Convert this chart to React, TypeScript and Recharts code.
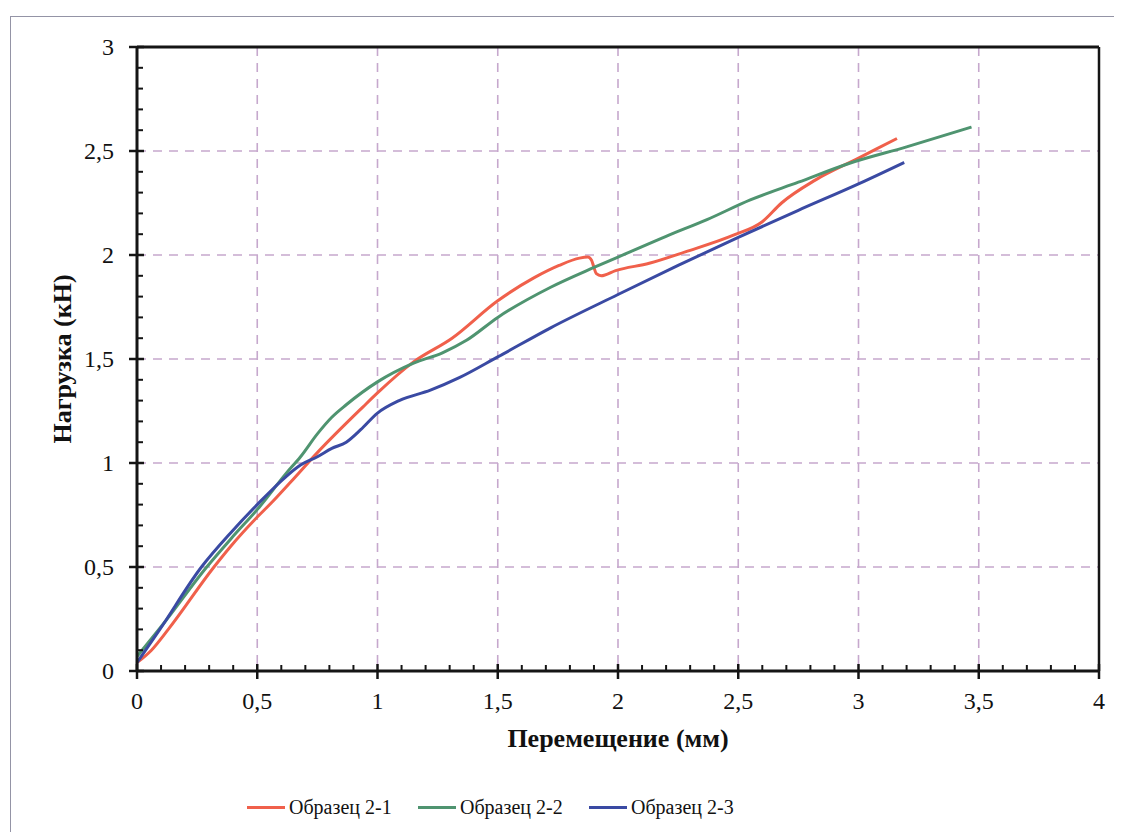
import React from 'react';
import { LineChart, Line, XAxis, YAxis, CartesianGrid, ReferenceLine, Legend } from 'recharts';

// ---- data ----
const red_x = [0, 0.06, 0.13, 0.32, 0.39, 0.5, 0.56, 0.64, 0.75, 0.94, 1.0, 1.15, 1.31, 1.5, 1.65, 1.755, 1.84, 1.874, 1.89, 1.9, 1.91, 1.93, 1.99, 2.13, 2.28, 2.48, 2.6, 2.68, 2.82, 2.99, 3.16];
const red_y = [0.04, 0.1, 0.2, 0.5, 0.6, 0.74, 0.81, 0.91, 1.05, 1.27, 1.337, 1.486, 1.6, 1.78, 1.89, 1.95, 1.985, 1.99, 1.975, 1.94, 1.91, 1.9, 1.925, 1.96, 2.015, 2.095, 2.16, 2.25, 2.36, 2.46, 2.56];

const green_x = [0, 0.105, 0.29, 0.39, 0.51, 0.62, 0.68, 0.75, 0.81, 0.87, 1.0, 1.15, 1.27, 1.37, 1.5, 1.72, 1.9, 2.0, 2.2, 2.37, 2.55, 2.75, 2.96, 3.2, 3.47];
const green_y = [0.07, 0.22, 0.5, 0.635, 0.79, 0.95, 1.03, 1.14, 1.22, 1.28, 1.39, 1.48, 1.53, 1.59, 1.7, 1.845, 1.94, 1.99, 2.09, 2.17, 2.265, 2.35, 2.44, 2.52, 2.615];

const blue_x = [0, 0.095, 0.268, 0.39, 0.5, 0.62, 0.68, 0.75, 0.81, 0.87, 0.93, 1.0, 1.09, 1.22, 1.34, 1.5, 1.72, 2.0, 2.25, 2.5, 2.75, 3.0, 3.19];
const blue_y = [0.04, 0.2, 0.5, 0.665, 0.8, 0.935, 0.99, 1.03, 1.07, 1.1, 1.16, 1.24, 1.3, 1.35, 1.41, 1.51, 1.65, 1.81, 1.95, 2.085, 2.215, 2.342, 2.445];

const seriesNames = ['Образец 2-1', 'Образец 2-2', 'Образец 2-3'];
const seriesColors = ['#f0604b', '#4f9470', '#3a4aa3'];

const xMajorTicks = [0, 0.5, 1, 1.5, 2, 2.5, 3, 3.5, 4];
const yMajorTicks = [0, 0.5, 1, 1.5, 2, 2.5, 3];
const xGridValues = [0.5, 1, 1.5, 2, 2.5, 3, 3.5];
const yGridValues = [0.5, 1, 1.5, 2, 2.5];
const minorStep = 0.1;

const xTitle = 'Перемещение (мм)';
const yTitle = 'Нагрузка (кН)';

// ---- helpers ----
const zip = (xs: number[], ys: number[]) => xs.map((x, i) => ({ x, y: ys[i] }));
const redData = zip(red_x, red_y);
const greenData = zip(green_x, green_y);
const blueData = zip(blue_x, blue_y);

const makeTicks = (max: number) => {
  const out: number[] = [];
  const n = Math.round(max / minorStep);
  for (let i = 0; i <= n; i++) out.push(Math.round(i * minorStep * 10) / 10);
  return out;
};
const xTicks = makeTicks(4);
const yTicks = makeTicks(3);
const isMajor = (v: number, majors: number[]) => majors.some((m) => Math.abs(m - v) < 1e-6);
const fmt = (v: number) => String(v).replace('.', ',');

const FONT = '"Liberation Serif", "Times New Roman", serif';
const AXIS = '#151515';

const XTick = (props: any) => {
  const { x, y, payload } = props;
  const v = payload.value;
  if (isMajor(v, xMajorTicks)) {
    return (
      <g>
        <line x1={x} x2={x} y1={y - 7} y2={y + 8} stroke={AXIS} strokeWidth={2.5} />
        <text x={x} y={y + 38} textAnchor="middle" fontFamily={FONT} fontSize={24} fill="#111">
          {fmt(v)}
        </text>
      </g>
    );
  }
  return <line x1={x} x2={x} y1={y - 6} y2={y} stroke={AXIS} strokeWidth={2} />;
};

const YTick = (props: any) => {
  const { x, y, payload } = props;
  const v = payload.value;
  if (isMajor(v, yMajorTicks)) {
    return (
      <g>
        <line x1={x - 8} x2={x + 7} y1={y} y2={y} stroke={AXIS} strokeWidth={2.5} />
        <text x={x - 23} y={y + 8} textAnchor="end" fontFamily={FONT} fontSize={24} fill="#111">
          {fmt(v)}
        </text>
      </g>
    );
  }
  return <line x1={x} x2={x + 6} y1={y} y2={y} stroke={AXIS} strokeWidth={2} />;
};

const LegendContent = () => (
  <div style={{ display: 'flex', fontFamily: FONT, fontSize: 20, color: '#111', height: 24, alignItems: 'center' }}>
    {seriesNames.map((n, i) => (
      <div key={n} style={{ display: 'flex', alignItems: 'center', width: 171 }}>
        <div style={{ width: 38, height: 3, background: seriesColors[i], marginRight: 4 }} />
        <span>{n}</span>
      </div>
    ))}
  </div>
);

const YLabel = (props: any) => {
  const vb = props.viewBox || {};
  const cx = vb.x + 5;
  const cy = vb.y + vb.height / 2;
  return (
    <text
      x={cx}
      y={cy}
      transform={`rotate(-90, ${cx}, ${cy})`}
      textAnchor="middle"
      dominantBaseline="central"
      fontFamily={FONT}
      fontWeight="bold"
      fontSize={26}
      fill="#111"
    >
      {yTitle}
    </text>
  );
};

export default function App() {
  return (
    <div style={{ position: 'relative', width: 1106, height: 824, background: '#fff' }}>
      <div
        style={{
          position: 'absolute',
          left: 2,
          top: 8,
          width: 1104,
          height: 816,
          borderLeft: '1.5px solid #9494a6',
          borderTop: '1.5px solid #9494a6',
          boxSizing: 'border-box',
        }}
      />
      <div style={{ position: 'absolute', left: 0, top: 0 }}>
        <LineChart width={1106} height={824} margin={{ top: 39, right: 15, bottom: 77, left: 49 }}>
          <CartesianGrid
            horizontalValues={yGridValues}
            verticalValues={xGridValues}
            stroke="#c6a8cd"
            strokeWidth={1.6}
            strokeDasharray="9 7"
          />
          <XAxis
            type="number"
            dataKey="x"
            domain={[0, 4]}
            ticks={xTicks}
            interval={0}
            allowDataOverflow
            height={60}
            tickSize={0}
            tickMargin={0}
            tickLine={false}
            axisLine={{ stroke: AXIS, strokeWidth: 3 }}
            tick={<XTick />}
            label={{ value: xTitle, position: 'bottom', offset: -2, fontFamily: FONT, fontWeight: 'bold', fontSize: 26, fill: '#111' }}
          />
          <YAxis
            type="number"
            dataKey="y"
            domain={[0, 3]}
            ticks={yTicks}
            interval={0}
            allowDataOverflow
            width={80}
            tickSize={0}
            tickMargin={0}
            tickLine={false}
            axisLine={{ stroke: AXIS, strokeWidth: 3 }}
            tick={<YTick />}
            label={<YLabel />}
          />
          <ReferenceLine y={3} stroke={AXIS} strokeWidth={3} />
          <ReferenceLine x={4} stroke={AXIS} strokeWidth={2.5} />
          <Line data={redData} dataKey="y" name={seriesNames[0]} type="monotone" stroke={seriesColors[0]} strokeWidth={3} dot={false} isAnimationActive={false} />
          <Line data={greenData} dataKey="y" name={seriesNames[1]} type="monotone" stroke={seriesColors[1]} strokeWidth={3} dot={false} isAnimationActive={false} />
          <Line data={blueData} dataKey="y" name={seriesNames[2]} type="monotone" stroke={seriesColors[2]} strokeWidth={3} dot={false} isAnimationActive={false} />
          <Legend
            content={<LegendContent />}
            wrapperStyle={{ position: 'absolute', left: 239, top: 787, width: 600, height: 24, bottom: 'auto' }}
          />
        </LineChart>
      </div>
    </div>
  );
}
